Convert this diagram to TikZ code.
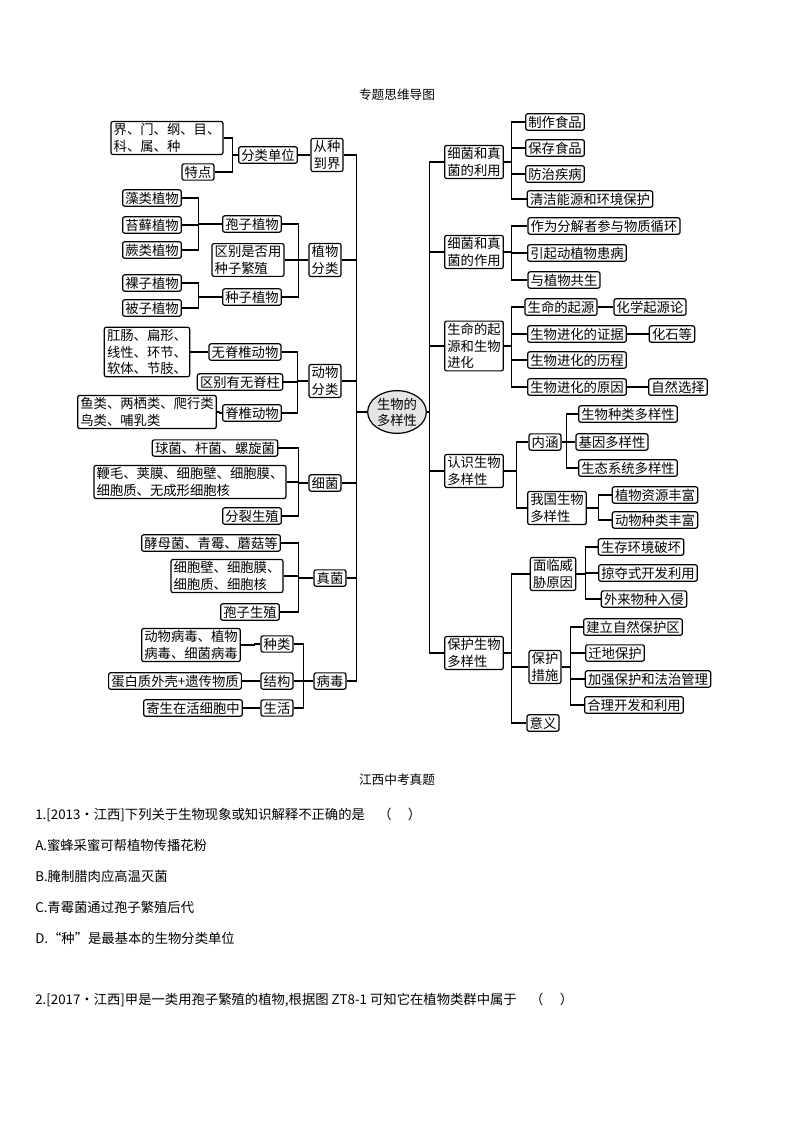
\documentclass[tikz,border=0pt]{standalone}
\usepackage{fontspec}
\setmainfont{Noto Sans CJK SC}
\usetikzlibrary{shapes.geometric}
\begin{document}
\begin{tikzpicture}[x=0.75pt,y=-0.75pt,
  bx/.style={draw,rounded corners=1.5pt,line width=0.9pt,inner xsep=2pt,inner ysep=1.5pt,font=\fontsize{10}{12.5}\selectfont,align=left},
  ln/.style={line width=0.8pt},
  qt/.style={anchor=west,font=\fontsize{10}{12}\selectfont,inner sep=0pt}]
\useasboundingbox (0,0) rectangle (794,1123);
\node[font=\fontsize{9.5}{11}\selectfont] (t1) at (397,95) {专题思维导图};
\node[draw,ellipse,fill=black!10,line width=0.9pt,inner sep=-3pt,minimum width=44pt,minimum height=32pt,align=center,font=\fontsize{10}{12}\selectfont] (c) at (397,412) {生物的\\多样性};
% left
\node[bx] (a1) at (167,138) {界、门、纲、目、\\科、属、种};
\node[bx] (a2) at (198,172) {特点};
\node[bx] (a3) at (268,155) {分类单位};
\node[bx] (A1) at (327,155) {从种\\到界};
\node[bx] (b1) at (152,198) {藻类植物};
\node[bx] (b2) at (152,225) {苔藓植物};
\node[bx] (b3) at (152,250) {蕨类植物};
\node[bx] (b4) at (252,224) {孢子植物};
\node[bx] (b5) at (248,260) {区别是否用\\种子繁殖};
\node[bx] (b6) at (152,283) {裸子植物};
\node[bx] (b7) at (152,308) {被子植物};
\node[bx] (b8) at (252,297) {种子植物};
\node[bx] (A2) at (325,260) {植物\\分类};
\node[bx] (d1) at (147,352) {肛肠、扁形、\\线性、环节、\\软体、节肢、};
\node[bx] (d2) at (245,352) {无脊椎动物};
\node[bx] (d3) at (240,382) {区别有无脊柱};
\node[bx] (d4) at (147,412) {鱼类、两栖类、爬行类\\鸟类、哺乳类};
\node[bx] (d5) at (252,413) {脊椎动物};
\node[bx] (A3) at (325,381) {动物\\分类};
\node[bx] (e1) at (215,448) {球菌、杆菌、螺旋菌};
\node[bx] (e2) at (190,482) {鞭毛、荚膜、细胞壁、细胞膜、\\细胞质、无成形细胞核};
\node[bx] (e3) at (252,516) {分裂生殖};
\node[bx] (A4) at (325,483) {细菌};
\node[bx] (f1) at (211,543) {酵母菌、青霉、蘑菇等};
\node[bx] (f2) at (227,576) {细胞壁、细胞膜、\\细胞质、细胞核};
\node[bx] (f3) at (250,612) {孢子生殖};
\node[bx] (A5) at (330,578) {真菌};
\node[bx] (g1) at (191,645) {动物病毒、植物\\病毒、细菌病毒};
\node[bx] (g2) at (277,644) {种类};
\node[bx] (g3) at (175,681) {蛋白质外壳+遗传物质};
\node[bx] (g4) at (277,681) {结构};
\node[bx] (g5) at (193,708) {寄生在活细胞中};
\node[bx] (g6) at (277,708) {生活};
\node[bx] (A6) at (330,681) {病毒};
% right
\node[bx] (B1) at (474,162) {细菌和真\\菌的利用};
\node[bx] (h1) at (555,122) {制作食品};
\node[bx] (h2) at (555,148) {保存食品};
\node[bx] (h3) at (555,174) {防治疾病};
\node[bx] (h4) at (590,199) {清洁能源和环境保护};
\node[bx] (B2) at (474,252) {细菌和真\\菌的作用};
\node[bx] (i1) at (604,226) {作为分解者参与物质循环};
\node[bx] (i2) at (577,253) {引起动植物患病};
\node[bx] (i3) at (564,280) {与植物共生};
\node[bx] (B3) at (474,346) {生命的起\\源和生物\\进化};
\node[bx] (j1) at (561,307) {生命的起源};
\node[bx] (j2) at (650,307) {化学起源论};
\node[bx] (j3) at (577,334) {生物进化的证据};
\node[bx] (j4) at (672,334) {化石等};
\node[bx] (j5) at (577,360) {生物进化的历程};
\node[bx] (j6) at (577,387) {生物进化的原因};
\node[bx] (j7) at (678,387) {自然选择};
\node[bx] (B4) at (474,471) {认识生物\\多样性};
\node[bx] (k1) at (545,442) {内涵};
\node[bx] (k2) at (628,414) {生物种类多样性};
\node[bx] (k3) at (612,442) {基因多样性};
\node[bx] (k4) at (628,468) {生态系统多样性};
\node[bx] (k5) at (557,508) {我国生物\\多样性};
\node[bx] (k6) at (655,495) {植物资源丰富};
\node[bx] (k7) at (655,520) {动物种类丰富};
\node[bx] (B5) at (474,653) {保护生物\\多样性};
\node[bx] (m1) at (553,574) {面临威\\胁原因};
\node[bx] (m2) at (641,547) {生存环境破坏};
\node[bx] (m3) at (648,573) {掠夺式开发利用};
\node[bx] (m4) at (644,599) {外来物种入侵};
\node[bx] (m5) at (545,667) {保护\\措施};
\node[bx] (m6) at (633,627) {建立自然保护区};
\node[bx] (m7) at (615,653) {迁地保护};
\node[bx] (m8) at (648,679) {加强保护和法治管理};
\node[bx] (m9) at (634,705) {合理开发和利用};
\node[bx] (m10) at (543,723) {意义};
% connectors left
\foreach \p/\d/\cs in {a3/6/{a1,a2}, A1/6/{a3}, b4/24/{b1,b2,b3}, b8/24/{b6,b7}, A2/10/{b4,b5,b8}, d2/6/{d1}, A3/11/{d2,d3,d5}, d5/3/{d4}, A4/10/{e1,e2,e3}, A5/15/{f1,f2,f3}, g2/6/{g1}, g4/6/{g3}, g6/6/{g5}, A6/10/{g2,g4,g6}, c/11/{A1,A2,A3,A4,A5,A6}}
  {\foreach \ch in \cs {\draw[ln] (\p.west) -- ++(-\d,0) |- (\ch.east);}}
% connectors right
\foreach \p/\d/\cs in {c/3/{B1,B2,B3,B4,B5}, B1/8/{h1,h2,h3,h4}, B2/8/{i1,i2,i3}, B3/8/{j1,j3,j5,j6}, j1/6/{j2}, j3/8/{j4}, j6/8/{j7}, B4/13/{k1,k5}, k1/5/{k2,k3,k4}, k5/12/{k6,k7}, B5/8/{m1,m5,m10}, m1/9/{m2,m3,m4}, m5/9/{m6,m7,m8,m9}}
  {\foreach \ch in \cs {\draw[ln] (\p.east) -- ++(\d,0) |- (\ch.west);}}
% questions
\node[font=\fontsize{9.5}{11}\selectfont] (t2) at (397,780) {江西中考真题};
\node[qt] (q1) at (35,815) {1.[2013·江西]下列关于生物现象或知识解释不正确的是\quad（\quad\ ）};
\node[qt] (q2) at (35,845) {A.蜜蜂采蜜可帮植物传播花粉};
\node[qt] (q3) at (35,876) {B.腌制腊肉应高温灭菌};
\node[qt] (q4) at (35,907) {C.青霉菌通过孢子繁殖后代};
\node[qt] (q5) at (35,938) {D.“种”是最基本的生物分类单位};
\node[qt] (q6) at (35,1000) {2.[2017·江西]甲是一类用孢子繁殖的植物,根据图 ZT8-1 可知它在植物类群中属于\quad（\quad\ ）};
\end{tikzpicture}
\end{document}
